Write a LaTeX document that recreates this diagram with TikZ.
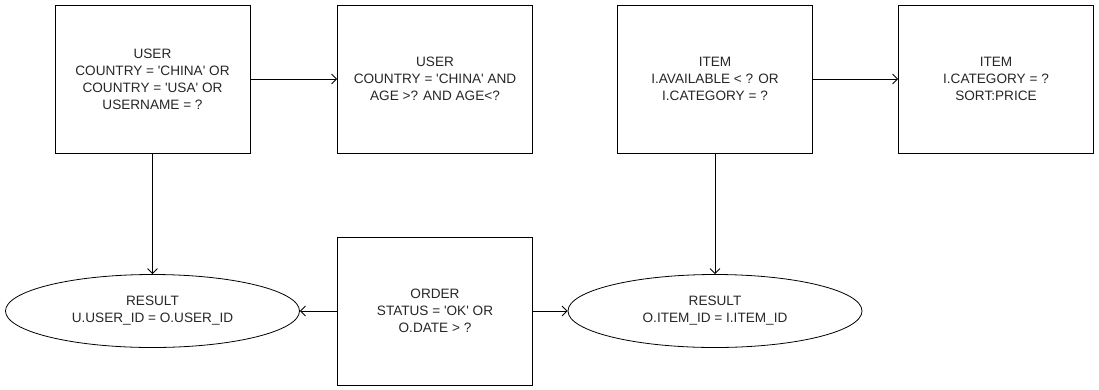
\documentclass[tikz,border=0pt]{standalone}
\usepackage{fontspec}
% plain typewriter-style quotes, no TeX ligature mapping
\setmainfont{Liberation Sans}[Ligatures=TeXOff]
\usetikzlibrary{shapes.geometric,arrows.meta}
\begin{document}
\begin{tikzpicture}[x=1pt,y=-1pt,
  lbl/.style={align=center, font=\fontsize{13.6}{17}\selectfont, text=black!85},
  box/.style={lbl, draw, line width=0.8pt, minimum width=195pt, minimum height=148pt, inner sep=0pt},
  res/.style={lbl, ellipse, draw, line width=0.8pt, minimum width=294pt, minimum height=73pt, inner sep=0pt},
  link/.style={-{Straight Barb[length=5pt,width=10pt]}, line width=0.8pt}]
\useasboundingbox (0,0) rectangle (1099,389);

% query boxes
\node[box] (u1) at (152.5,79) {USER\\COUNTRY = 'CHINA' OR\\COUNTRY = 'USA' OR\\USERNAME = ?};
\node[box] (u2) at (435,79) {USER\\COUNTRY = 'CHINA' AND\\AGE >? AND AGE<?};
\node[box] (i1) at (715,79) {ITEM\\I.AVAILABLE < ? OR\\I.CATEGORY = ?};
\node[box] (i2) at (996,79) {ITEM\\I.CATEGORY = ?\\SORT:PRICE};
\node[box] (o1) at (435,311) {ORDER\\STATUS = 'OK' OR\\O.DATE > ?};

% join results
\node[res] (r1) at (152.5,311) {RESULT\\U.USER\_ID = O.USER\_ID};
\node[res] (r2) at (715,311) {RESULT\\O.ITEM\_ID = I.ITEM\_ID};

% connectors
\draw[link] (u1) -- (u2);
\draw[link] (i1) -- (i2);
\draw[link] (u1) -- (r1);
\draw[link] (i1) -- (r2);
\draw[link] (o1) -- (r1);
\draw[link] (o1) -- (r2);
\end{tikzpicture}
\end{document}
